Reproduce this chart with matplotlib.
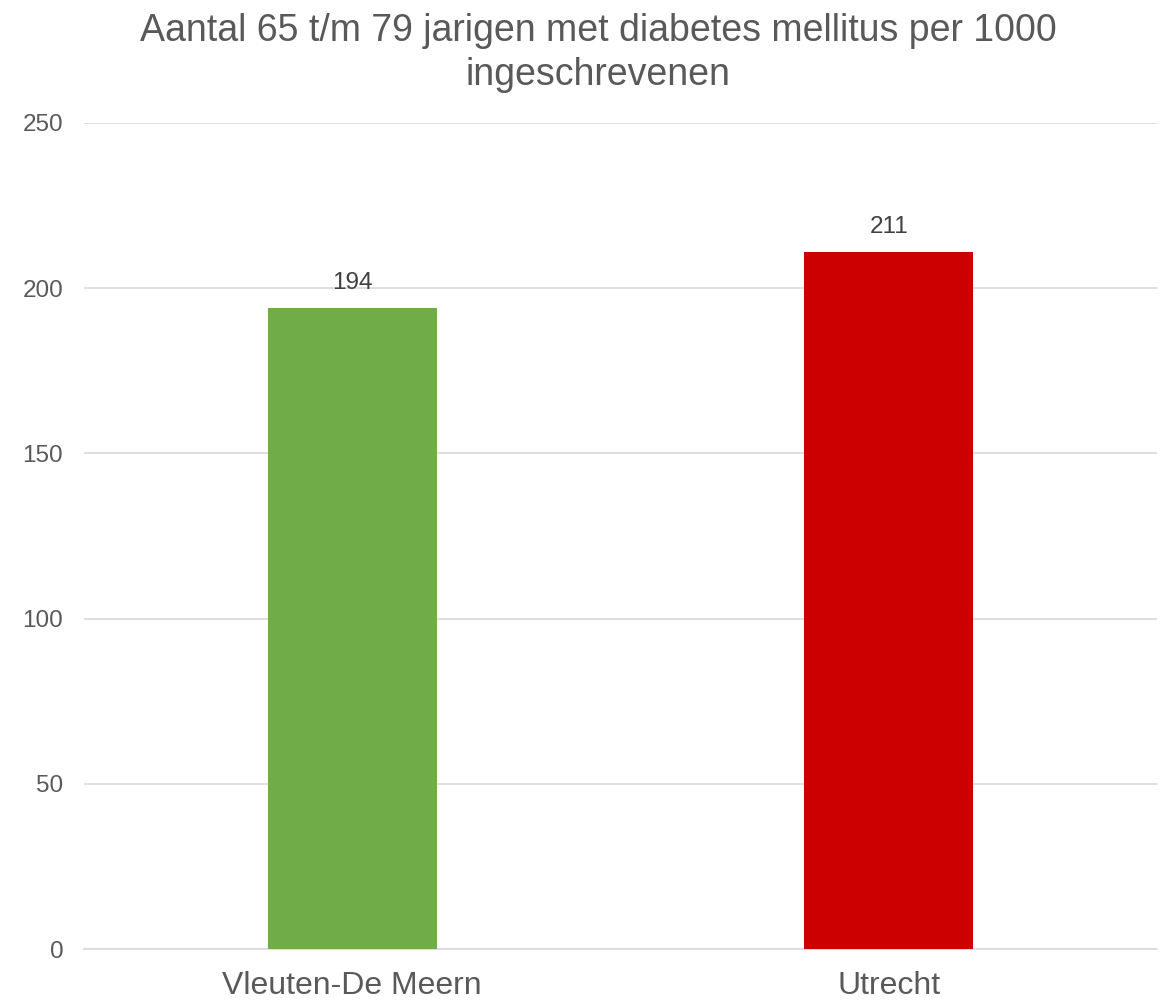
import matplotlib
matplotlib.use('Agg')
import matplotlib.pyplot as plt

categories = ['Vleuten-De Meern', 'Utrecht']
values = [194, 211]
bar_colors = ['#70AD47', '#CC0000']
yticks = [0, 50, 100, 150, 200, 250]

plt.rcParams['font.family'] = ['Liberation Sans', 'DejaVu Sans']

fig = plt.figure(figsize=(11.68, 10.01), dpi=100)
ax = fig.add_axes([84 / 1168, 1 - 949 / 1001, 1073 / 1168, (949 - 123) / 1001])

x = range(len(categories))
bars = ax.bar(x, values, width=0.315, color=bar_colors, zorder=3)
for b, v in zip(bars, values):
    ax.annotate(str(v), (b.get_x() + b.get_width() / 2, v), xytext=(0, 10),
                textcoords='offset points', ha='center', va='bottom',
                fontsize=17.5, color='#404040')

ax.set_xlim(-0.5, 1.5)
ax.set_ylim(0, 250)
ax.set_yticks(yticks)
ax.set_xticks(list(x))
ax.set_xticklabels(categories, fontsize=23, color='#595959')
ax.tick_params(axis='y', labelsize=17.5, labelcolor='#595959', length=0, pad=15)
ax.tick_params(axis='x', length=0, pad=16)
ax.grid(axis='y', color='#D9D9D9', linewidth=1.2, zorder=0)
for s in ['top', 'right', 'left']:
    ax.spines[s].set_visible(False)
ax.spines['bottom'].set_color('#D9D9D9')
ax.spines['bottom'].set_linewidth(1.2)

fig.text(0.512, 1 - 13 / 1001, 'Aantal 65 t/m 79 jarigen met diabetes mellitus per 1000\ningeschrevenen',
         ha='center', va='top', fontsize=27, color='#595959', linespacing=1.3)

fig.savefig('out.png', dpi=100)
